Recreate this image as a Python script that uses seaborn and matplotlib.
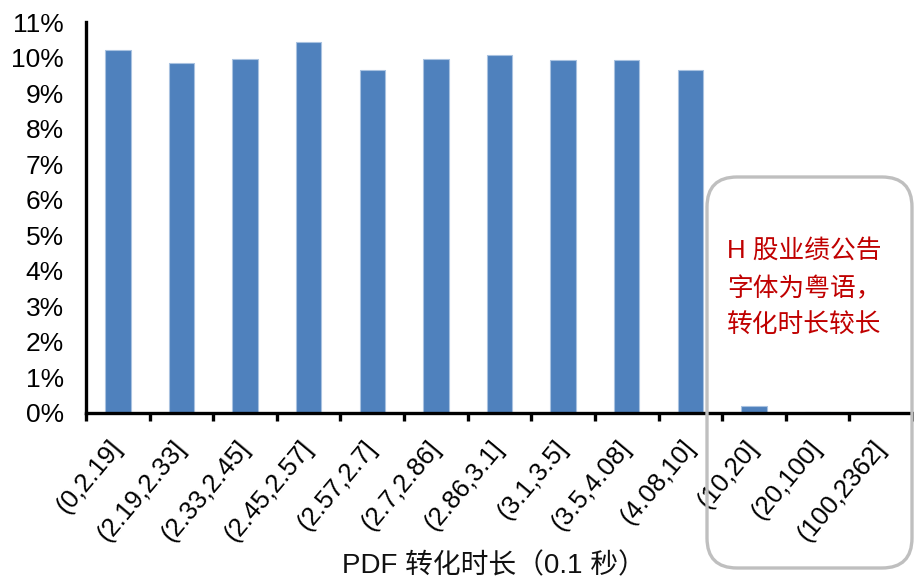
import matplotlib
matplotlib.use("Agg")
import matplotlib.pyplot as plt
from matplotlib.patches import FancyBboxPatch
from matplotlib.transforms import IdentityTransform
import seaborn as sns
import pandas as pd

# PDF conversion time buckets (unit: 0.1 s) and share of documents in each
categories = ["(0,2.19]", "(2.19,2.33]", "(2.33,2.45]", "(2.45,2.57]", "(2.57,2.7]",
              "(2.7,2.86]", "(2.86,3.1]", "(3.1,3.5]", "(3.5,4.08]", "(4.08,10]",
              "(10,20]", "(20,100]", "(100,2362]"]
shares = [10.22, 9.84, 9.97, 10.43, 9.65, 9.97, 10.06, 9.94, 9.94, 9.65, 0.20, 0.04, 0.0]
y_ticks = list(range(0, 12))
y_tick_labels = [f"{v}%" for v in y_ticks]
x_title = "PDF 转化时长（0.1 秒）"
note_lines = ["H 股业绩公告", "字体为粤语，", "转化时长较长"]

df = pd.DataFrame({"bucket": categories, "share": shares})

sns.set_theme(style="white")
plt.rcParams["font.family"] = ["Liberation Sans", "Noto Sans CJK SC", "DejaVu Sans"]
plt.rcParams["xtick.bottom"] = True

fig = plt.figure(figsize=(9.14, 5.8), dpi=100)
ax = fig.add_axes([86 / 914, 1 - 413 / 580, 827 / 914, (413 - 22) / 580])

sns.barplot(data=df, x="bucket", y="share", color="#4F81BD", saturation=1,
            width=0.4, edgecolor="#A9C2E0", linewidth=0.8, ax=ax)

ax.set_xlim(-0.5, len(categories) - 0.5)
ax.set_ylim(0, 11)
ax.set_yticks(y_ticks)
ax.set_yticklabels(y_tick_labels, fontsize=19, color="black")
ax.tick_params(axis="y", length=0, pad=16)

# category labels at bar centres, tick marks at bucket boundaries
ax.set_xticks(range(len(categories)))
ax.set_xticklabels(categories, rotation=50, ha="right", va="center",
                   rotation_mode="anchor", fontsize=18.5, color="black")
ax.tick_params(axis="x", which="major", length=0, pad=22)
ax.set_xticks([i - 0.5 for i in range(len(categories) + 1)], minor=True)
ax.tick_params(axis="x", which="minor", length=6, width=2.4, color="black",
               direction="out", bottom=True)

ax.set_xlabel("")
ax.set_ylabel("")
for side in ("top", "right"):
    ax.spines[side].set_visible(False)
for side in ("left", "bottom"):
    ax.spines[side].set_color("black")
    ax.spines[side].set_linewidth(2.4)

fig.text(494 / 914, 1 - 566 / 580, x_title, ha="center", va="center",
         fontsize=20, color="#111111",
         family=["Liberation Sans", "Noto Sans CJK SC"])

# rounded call-out box around the long-tail buckets
box = FancyBboxPatch((707, 580 - 568), 205, 391,
                     boxstyle="round,pad=0,rounding_size=30",
                     transform=IdentityTransform(), fill=False,
                     edgecolor="#BFBFBF", linewidth=2.4, zorder=10)
fig.add_artist(box)

for i, line in enumerate(note_lines):
    fig.text(727 / 914, 1 - (251 + 37.5 * i) / 580, line, ha="left", va="center",
             fontsize=18.5, color="#C00000",
             family=["Liberation Sans", "Noto Sans CJK SC"])

fig.savefig("out.png", dpi=100)
